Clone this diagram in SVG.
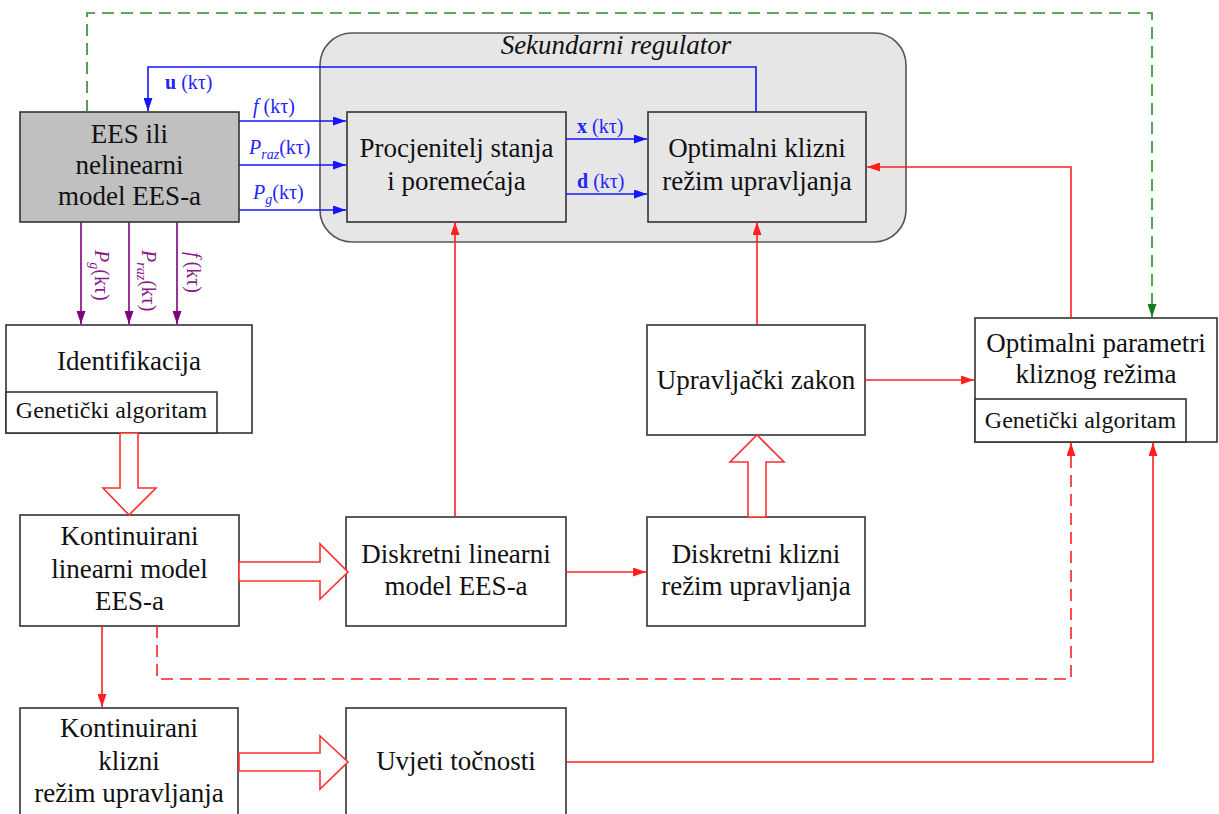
<svg xmlns="http://www.w3.org/2000/svg" width="1219" height="814" viewBox="0 0 1219 814">
<defs>
<style>
text{font-family:'Liberation Serif','DejaVu Serif',serif}
.box{fill:#fff;stroke:#333;stroke-width:1.6}
.gbox{fill:#e6e6e6;stroke:#333;stroke-width:1.6}
.t{font-size:27px;fill:#111;text-anchor:middle}
.ts{font-size:24px;fill:#111;text-anchor:middle}
.lb{font-size:20px;fill:#2323ff}
.lp{font-size:20px;fill:#8a1a8a}
.red{fill:none;stroke:#ff2020;stroke-width:1.6}
.blue{fill:none;stroke:#1414ff;stroke-width:1.6}
.pur{fill:none;stroke:#800080;stroke-width:1.6}
.grn{fill:none;stroke:#2a8a2a;stroke-width:1.6;stroke-dasharray:12,7}
.dash{stroke-dasharray:12,7}
.hollow{fill:#fff;stroke:#ff3030;stroke-width:1.6}
</style>
<marker id="ar" viewBox="0 0 13 9" refX="13" refY="4.5" markerWidth="13" markerHeight="9" markerUnits="userSpaceOnUse" orient="auto"><path d="M0,0 L13,4.5 L0,9 z" fill="#ff2020"/></marker>
<marker id="ab" viewBox="0 0 13 9" refX="13" refY="4.5" markerWidth="13" markerHeight="9" markerUnits="userSpaceOnUse" orient="auto"><path d="M0,0 L13,4.5 L0,9 z" fill="#1414ff"/></marker>
<marker id="ap" viewBox="0 0 13 9" refX="13" refY="4.5" markerWidth="13" markerHeight="9" markerUnits="userSpaceOnUse" orient="auto"><path d="M0,0 L13,4.5 L0,9 z" fill="#800080"/></marker>
<marker id="ag" viewBox="0 0 13 9" refX="13" refY="4.5" markerWidth="13" markerHeight="9" markerUnits="userSpaceOnUse" orient="auto"><path d="M0,0 L13,4.5 L0,9 z" fill="#1a7a1a"/></marker>
</defs>
<rect width="1219" height="814" fill="#fff"/>
<g font-family="Liberation Serif, DejaVu Serif, serif">
<g id="sekundarni">
<rect x="320" y="33" width="586" height="209" rx="32" ry="32" fill="#e6e6e6" stroke="#555" stroke-width="1.6"/>
<text x="616" y="54" class="t" font-style="italic">Sekundarni regulator</text>
</g>

<g id="ees">
<rect x="20" y="112" width="219" height="110" fill="#c0c0c0" stroke="#333" stroke-width="1.6"/>
<text x="129.5" y="143" class="t">EES ili</text>
<text x="129.5" y="174" class="t">nelinearni</text>
<text x="129.5" y="205" class="t">model EES-a</text>
</g>

<g id="procjenitelj">
<rect x="347" y="112" width="219" height="110" class="gbox"/>
<text x="456.5" y="157" class="t">Procjenitelj stanja</text>
<text x="456.5" y="190" class="t">i poremećaja</text>
</g>

<g id="optimalni-klizni">
<rect x="648" y="112" width="218" height="110" class="gbox"/>
<text x="757" y="157" class="t">Optimalni klizni</text>
<text x="757" y="190" class="t">režim upravljanja</text>
</g>

<g id="identifikacija">
<rect x="6" y="325" width="246" height="108" class="box"/>
<rect x="6" y="392" width="211" height="41" class="box"/>
<text x="129" y="370" class="t">Identifikacija</text>
<text x="111.5" y="418" class="ts">Genetički algoritam</text>
</g>

<g id="upravljacki-zakon">
<rect x="647" y="325" width="218" height="110" class="box"/>
<text x="756" y="389" class="t">Upravljački zakon</text>
</g>

<g id="optimalni-parametri">
<rect x="975" y="318" width="242" height="124" class="box"/>
<rect x="975" y="399" width="211" height="43" class="box"/>
<text x="1096" y="352" class="t">Optimalni parametri</text>
<text x="1096" y="383" class="t">kliznog režima</text>
<text x="1080.5" y="428" class="ts">Genetički algoritam</text>
</g>

<g id="kontinuirani-linearni">
<rect x="20" y="515" width="219" height="111" class="box"/>
<text x="129.5" y="545" class="t">Kontinuirani</text>
<text x="129.5" y="578" class="t">linearni model</text>
<text x="129.5" y="610" class="t">EES-a</text>
</g>

<g id="diskretni-linearni">
<rect x="346" y="517" width="220" height="109" class="box"/>
<text x="456" y="563" class="t">Diskretni linearni</text>
<text x="456" y="595" class="t">model EES-a</text>
</g>

<g id="diskretni-klizni">
<rect x="647" y="517" width="218" height="109" class="box"/>
<text x="756" y="563" class="t">Diskretni klizni</text>
<text x="756" y="595" class="t">režim upravljanja</text>
</g>

<g id="kontinuirani-klizni">
<rect x="20" y="708" width="218" height="115" class="box"/>
<text x="129" y="737" class="t">Kontinuirani</text>
<text x="129" y="770" class="t">klizni</text>
<text x="129" y="802" class="t">režim upravljanja</text>
</g>

<g id="uvjeti">
<rect x="346" y="708" width="220" height="115" class="box"/>
<text x="456" y="770" class="t">Uvjeti točnosti</text>
</g>

<g id="connectors">
<path class="grn" d="M87,112 V13 H1152 V317" marker-end="url(#ag)"/>
<path class="blue" d="M756,112 V67 H148 V111" marker-end="url(#ab)"/>
<path class="blue" d="M239,121 H346" marker-end="url(#ab)"/>
<path class="blue" d="M239,165 H346" marker-end="url(#ab)"/>
<path class="blue" d="M239,210 H346" marker-end="url(#ab)"/>
<path class="blue" d="M566,139 H647" marker-end="url(#ab)"/>
<path class="blue" d="M566,194 H647" marker-end="url(#ab)"/>
<path class="pur" d="M81,222 V324" marker-end="url(#ap)"/>
<path class="pur" d="M129,222 V324" marker-end="url(#ap)"/>
<path class="pur" d="M177,222 V324" marker-end="url(#ap)"/>
<path class="red" d="M455,517 V222" marker-end="url(#ar)"/>
<path class="red" d="M566,572 H646" marker-end="url(#ar)"/>
<path class="red" d="M757,325 V222" marker-end="url(#ar)"/>
<path class="red" d="M865,380 H974" marker-end="url(#ar)"/>
<path class="red" d="M1071,318 V167 H867" marker-end="url(#ar)"/>
<path class="red" d="M102,626 V707" marker-end="url(#ar)"/>
<path class="red dash" d="M157,626 V679 H1071 V443" marker-end="url(#ar)"/>
<path class="red" d="M566,762 H1153 V443" marker-end="url(#ar)"/>
<polygon class="hollow" points="120,433 138,433 138,488 156,488 129,515 103,488 120,488"/>
<polygon class="hollow" points="239,562 320,562 320,544 348,572 320,599 320,581 239,581"/>
<polygon class="hollow" points="239,753 320,753 320,736 348,762 320,789 320,771 239,771"/>
<polygon class="hollow" points="748,517 748,462 730,462 757,435 784,462 766,462 766,517"/>
<text x="165" y="89" class="lb"><tspan font-weight="bold">u</tspan> (kτ)</text>
<text x="253" y="113" class="lb"><tspan font-style="italic">f</tspan><tspan dx="5">(kτ)</tspan></text>
<text x="249" y="154" class="lb"><tspan font-style="italic">P</tspan><tspan font-style="italic" font-size="14" dy="5">raz</tspan><tspan dy="-5">(kτ)</tspan></text>
<text x="253" y="199" class="lb"><tspan font-style="italic">P</tspan><tspan font-style="italic" font-size="14" dy="5">g</tspan><tspan dy="-5">(kτ)</tspan></text>
<text x="577" y="133" class="lb"><tspan font-weight="bold">x</tspan> (kτ)</text>
<text x="577" y="188" class="lb"><tspan font-weight="bold">d</tspan> (kτ)</text>
<text transform="translate(95,250) rotate(90)" class="lp"><tspan font-style="italic">P</tspan><tspan font-style="italic" font-size="14" dy="5">g</tspan><tspan dy="-5">(kτ)</tspan></text>
<text transform="translate(142,250) rotate(90)" class="lp"><tspan font-style="italic">P</tspan><tspan font-style="italic" font-size="14" dy="5">raz</tspan><tspan dy="-5">(kτ)</tspan></text>
<text transform="translate(187,252) rotate(90)" class="lp"><tspan font-style="italic">f</tspan><tspan dx="4">(kτ)</tspan></text>
</g>
</g>
</svg>
